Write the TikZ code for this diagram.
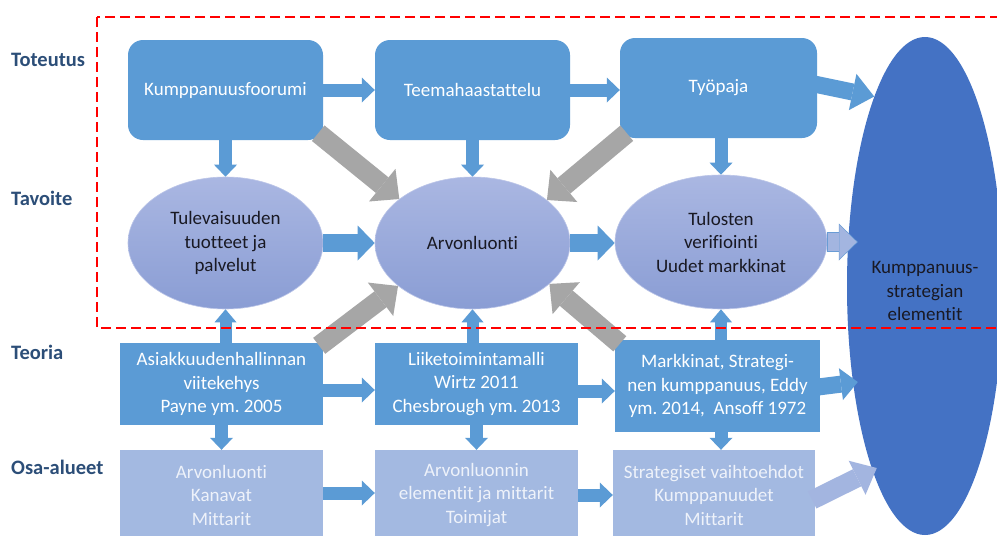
\documentclass[tikz,border=0pt]{standalone}
\usepackage{fontspec}
\setmainfont[Ligatures={NoCommon}]{Carlito}
\usetikzlibrary{shapes.geometric,arrows.meta,calc}

\definecolor{cblue}{RGB}{91,155,213}
\definecolor{clight}{RGB}{163,185,225}
\definecolor{cgray}{RGB}{166,166,166}
\definecolor{cbig}{RGB}{68,114,196}
\definecolor{elltop}{RGB}{170,183,226}
\definecolor{ellbot}{RGB}{138,157,212}
\definecolor{clabel}{RGB}{44,78,120}
\definecolor{lighttext}{RGB}{238,242,250}
\definecolor{lightarrow}{RGB}{163,181,224}
\definecolor{darktext}{RGB}{25,25,35}

\tikzset{
  txt/.style={font=\fontsize{19}{23.5}\selectfont, align=center},
  rowlabel/.style={anchor=west, font=\fontsize{20.5}{24}\selectfont\bfseries, text=clabel, inner sep=0pt},
  stage/.style={txt, rectangle, rounded corners=15pt, fill=cblue, text=white,
    minimum width=195pt, minimum height=100pt, inner sep=2pt},
  goal/.style={txt, ellipse, top color=elltop, bottom color=ellbot, draw=elltop!80!white,
    line width=0.6pt, text=darktext, inner sep=0pt},
  theory/.style={txt, rectangle, fill=cblue, text=white, minimum width=203pt,
    minimum height=82pt, inner sep=2pt},
  area/.style={txt, rectangle, fill=clight, text=lighttext, minimum width=203pt,
    minimum height=90pt, inner sep=2pt},
  blk/.style n args={4}{draw=#1, line width=#2pt,
    -{Triangle[length=#4pt, width=#3pt, line width=0pt]}},
  link/.style={blk={cblue}{13}{25}{13}},
  biglink/.style={blk={cblue}{18}{35}{17}},
  graylink/.style={blk={cgray}{20}{42}{22}},
  frame/.style={draw=red, line width=2.6pt, dash pattern=on 10pt off 5pt},
}

\begin{document}
\frenchspacing
\begin{tikzpicture}[x=1pt, y=-1pt]
  \useasboundingbox (0,0) rectangle (997,536);
  \clip (0,0) rectangle (997,536);
  \fill[white] (0,0) rectangle (997,536);

  % row labels
  \node[rowlabel] (lToteutus) at (11,60) {Toteutus};
  \node[rowlabel] (lTavoite)  at (11,198) {Tavoite};
  \node[rowlabel] (lTeoria)   at (11,352) {Teoria};
  \node[rowlabel] (lOsa)      at (11,467) {Osa-alueet};

  % strategy ellipse on the right
  \node[ellipse, fill=cbig, minimum width=156pt, minimum height=498pt, inner sep=0pt]
    (ke) at (925,286) {};
  \node[txt, text=darktext] (keText) at (925,291) {Kumppanuus-\\strategian\\elementit};

  % implementation stages
  \node[stage] (kf) at (225.5,90) {Kumppanuusfoorumi};
  \node[stage] (th) at (472.5,90) {Teemahaastattelu};
  \node[stage, minimum width=197pt] (tp) at (718.5,88) {Työpaja};

  % goals
  \node[goal, minimum width=195pt, minimum height=132pt] (tv) at (225.5,243)
    {Tulevaisuuden\\tuotteet ja\\palvelut};
  \node[goal, minimum width=195pt, minimum height=132pt] (av) at (472.5,243) {Arvonluonti};
  \node[goal, minimum width=212pt, minimum height=134pt] (tu) at (721,242)
    {Tulosten\\verifiointi\\Uudet markkinat};

  % theory
  \node[theory] (as) at (221.5,384) {Asiakkuudenhallinnan\\viitekehys\\Payne ym. 2005};
  \node[theory] (lt) at (476.5,384) {Liiketoimintamalli\\Wirtz 2011\\Chesbrough ym. 2013};
  \node[theory, minimum width=205pt, minimum height=92pt] (mk) at (717.5,386)
    {Markkinat, Strategi-\\nen kumppanuus, Eddy\\ym. 2014,\ \ Ansoff 1972};

  % sub-areas
  \node[area] (o1) at (221.5,495) {Arvonluonti\\Kanavat\\Mittarit};
  \node[area] (o2) at (476.5,495) {Arvonluonnin\\elementit ja mittarit\\Toimijat};
  \node[area, minimum width=202pt] (o3) at (714,495)
    {Strategiset vaihtoehdot\\Kumppanuudet\\Mittarit};

  % gray arrows into the value creation ellipse
  \draw[graylink] ($(kf.south east)+(-5,-7)$) -- (av.149);
  \draw[graylink] ($(tp.south west)+(7,-5)$) -- (av.30);
  \draw[graylink] ($(as.north east)+(-4,3)$) -- (av.210);
  \draw[graylink] ($(mk.north west)+(5,4)$) -- (av.-28);

  % top row
  \draw[link] (kf.east) -- (th.west);
  \draw[link] (th.east) -- (th.east -| tp.west);
  \draw[blk={cblue}{17}{37}{22}] ($(tp.east)+(-3,-4)$) -- (ke.105);
  \draw[blk={cblue}{13}{23}{12}] (kf.south) -- (tv.north);
  \draw[blk={cblue}{13}{23}{12}] (th.south) -- (av.north);
  \draw[blk={cblue}{13}{23}{12}] (tp.south -| tu.north) -- (tu.north);

  % goal row
  \draw[biglink] (tv.east) -- (av.west);
  \draw[biglink] (av.east) -- (av.east -| tu.west);
  \draw[draw=cblue!70!ellbot, line width=20.5pt,
        -{Triangle[length=19pt, width=37pt, line width=0pt]}]
    (tu.east) -- ($(tu.east -| ke.west)+(11,0)$);
  \draw[draw=lightarrow, line width=18pt,
        -{Triangle[length=17.5pt, width=34pt, line width=0pt]}]
    ($(tu.east)+(0.8,0)$) -- ($(tu.east -| ke.west)+(10,0)$);

  % theory row
  \draw[blk={cblue}{12}{22}{13}] (as.north -| tv.south) -- (tv.south);
  \draw[blk={cblue}{12}{22}{13}] (lt.north -| av.south) -- (av.south);
  \draw[blk={cblue}{12}{22}{13}] (mk.north -| tu.south) -- (tu.south);
  \draw[link] ($(as.east)+(0,6)$) -- ($(lt.west)+(0,6)$);
  \draw[link] ($(lt.east)+(0,7)$) -- ($(mk.west)+(0,5)$);
  \draw[blk={cblue}{17}{32}{17}] ($(mk.east)+(-2,1)$) -- ($(ke.west)+(11,96)$);
  \draw[blk={cblue}{13}{23}{12}] (as.south) -- (o1.north);
  \draw[blk={cblue}{13}{23}{12}] (lt.south) -- (o2.north);
  \draw[blk={cblue}{13}{23}{12}] (mk.south -| tu.south) -- (o3.north -| tu.south);

  % sub-area row
  \draw[link] ($(o1.east)+(0,-2)$) -- ($(o2.west)+(0,-2)$);
  \draw[link] (o2.east) -- (o3.west);
  \draw[blk={lightarrow}{19}{38}{22}] ($(o3.east)+(-3,5)$) -- ($(ke.west)+(30,182)$);

  % boundary of the implementation and goal levels
  \draw[frame] (97,17) rectangle (1010,328);
\end{tikzpicture}
\end{document}
